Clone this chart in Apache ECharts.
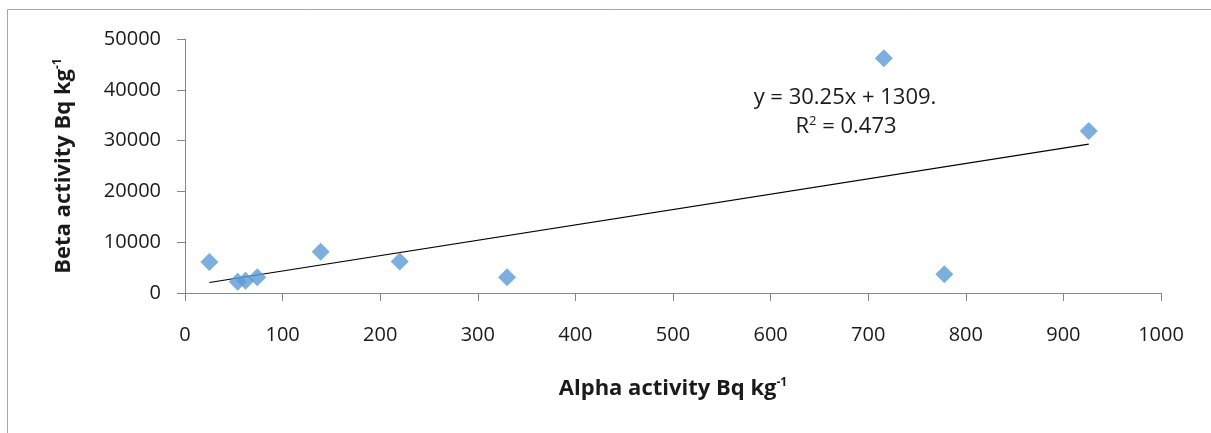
<!DOCTYPE html>
<html>
<head>
<meta charset="utf-8">
<script src="https://cdn.jsdelivr.net/npm/echarts@6/dist/echarts.min.js"></script>
<style>
  html, body { margin:0; padding:0; background:#fff; }
  #c { width:1211px; height:433px; }
</style>
</head>
<body>
<div id="c"></div>
<script>
// alpha (x) vs beta (y) activity
const alpha = [25, 54, 62, 74, 139, 220, 330, 716, 778, 926];
const beta  = [6100, 2200, 2400, 3100, 8100, 6200, 3100, 46200, 3700, 31900];

// linear trendline as printed on the chart
const slope = 30.25, intercept = 1309;
const trendX = [25, 926];

const xTicks = { min:0, max:1000, interval:100 };
const yTicks = { min:0, max:50000, interval:10000 };

const font = '"Open Sans", "Liberation Sans", sans-serif';
const axisGray = '#868686';
const ink = '#1a1a1a';
const sup = { fontSize:12, fontFamily:font, color:ink, verticalAlign:'top', padding:[0,0,11,0] };

const c = echarts.init(document.getElementById('c'));
c.setOption({
  animation: false,
  textStyle: { fontFamily: font },
  graphic: [{
    type:'rect', shape:{ x:7.5, y:9.5, width:1400, height:600 },
    style:{ fill:'none', stroke:'#a6a6a6', lineWidth:1 }, silent:true
  }, {
    type:'text', x:845, y:98,
    style:{ text:'y = 30.25x + 1309.', font:'22px ' + font, fill:ink, align:'center', verticalAlign:'middle' }
  }, {
    type:'text', x:846, y:127,
    style:{
      text:'R{s|2} = 0.473', font:'22px ' + font, fill:ink, align:'center', verticalAlign:'middle',
      rich:{ s:{ fontSize:13, fontFamily:font, fill:ink, verticalAlign:'top', padding:[0,0,11,0] } }
    }
  }],
  grid: { left:185, right:50, top:39, bottom:140 },
  xAxis: {
    type:'value', min:xTicks.min, max:xTicks.max, interval:xTicks.interval,
    splitLine:{ show:false },
    axisLine:{ lineStyle:{ color:axisGray } },
    axisTick:{ length:8, lineStyle:{ color:axisGray } },
    axisLabel:{ color:ink, fontSize:20, margin:32, fontFamily:font, formatter: v => String(v) },
    name:'Alpha activity Bq kg{s|-1}', nameLocation:'middle', nameGap:84,
    nameTextStyle:{ fontSize:22, fontWeight:'bold', color:ink, fontFamily:font,
      rich:{ s:Object.assign({ fontWeight:'bold' }, sup) } }
  },
  yAxis: {
    type:'value', min:yTicks.min, max:yTicks.max, interval:yTicks.interval,
    splitLine:{ show:false },
    axisLine:{ show:true, lineStyle:{ color:axisGray } },
    axisTick:{ show:true, length:8, lineStyle:{ color:axisGray } },
    axisLabel:{ color:ink, fontSize:20, margin:24, fontFamily:font, formatter: v => String(v) },
    name:'Beta activity Bq kg{s|-1}', nameLocation:'middle', nameGap:110,
    nameTextStyle:{ fontSize:22, fontWeight:'bold', color:ink, fontFamily:font,
      rich:{ s:Object.assign({ fontWeight:'bold' }, sup) } }
  },
  series: [{
    type:'line', data: trendX.map(x => [x, slope*x + intercept]),
    symbol:'none', lineStyle:{ color:'#000', width:1.2 }, z:1, silent:true
  }, {
    type:'scatter', data: alpha.map((x,i) => [x, beta[i]]),
    symbol:'diamond', symbolSize:[18,18],
    itemStyle:{ color:'#5b9bd5' }, z:2
  }]
});
</script>
</body>
</html>
